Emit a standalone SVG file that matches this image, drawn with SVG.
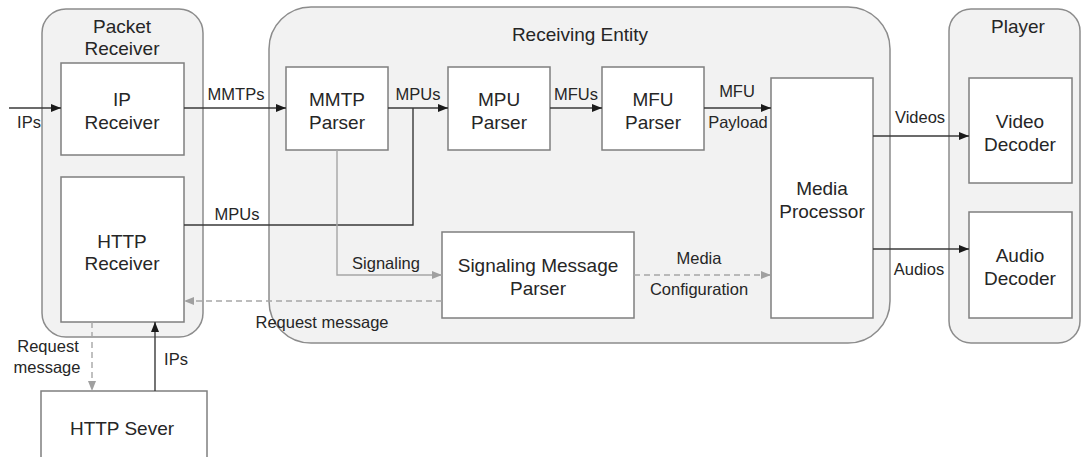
<svg xmlns="http://www.w3.org/2000/svg" width="1083" height="457" viewBox="0 0 1083 457">
  <style>
    .cont { fill: #f2f2f2; stroke: #8c8c8c; stroke-width: 1.5; }
    .box { fill: #ffffff; stroke: #7f7f7f; stroke-width: 1.5; }
    .t { font-family: "Liberation Sans", Arial, sans-serif; fill: #262626; text-anchor: middle; }
    .n { font-size: 19px; }
    .e { font-size: 16.5px; }
    .solid { fill: none; stroke: #3a3a3a; stroke-width: 1.4; }
    .grey { fill: none; stroke: #a6a6a6; stroke-width: 1.4; }
    .dash { fill: none; stroke: #a6a6a6; stroke-width: 1.4; stroke-dasharray: 6 4; }
  </style>
  <defs>
    <marker id="ah" viewBox="0 0 10 10" refX="10" refY="5" markerWidth="10" markerHeight="10" markerUnits="userSpaceOnUse" orient="auto">
      <path d="M0,1 L10,5 L0,9 Z" fill="#1a1a1a"/>
    </marker>
    <marker id="ahg" viewBox="0 0 10 10" refX="10" refY="5" markerWidth="10" markerHeight="10" markerUnits="userSpaceOnUse" orient="auto">
      <path d="M0,1 L10,5 L0,9 Z" fill="#a0a0a0"/>
    </marker>
  </defs>

  <!-- containers -->
  <g id="packet-receiver">
    <rect class="cont" x="42" y="9" width="161" height="328" rx="24"/>
    <text class="t n" x="122" y="33">Packet</text>
    <text class="t n" x="122" y="55">Receiver</text>
  </g>
  <g id="receiving-entity">
    <rect class="cont" x="269" y="7" width="621" height="336" rx="42"/>
    <text class="t n" x="580" y="41">Receiving Entity</text>
  </g>
  <g id="player">
    <rect class="cont" x="949" y="9" width="131" height="334" rx="22"/>
    <text class="t n" x="1018" y="33">Player</text>
  </g>

  <!-- nodes -->
  <g id="ip-receiver">
    <rect class="box" x="61" y="63" width="123" height="92"/>
    <text class="t n" x="122" y="106">IP</text>
    <text class="t n" x="122" y="129">Receiver</text>
  </g>
  <g id="http-receiver">
    <rect class="box" x="61" y="177" width="123" height="145"/>
    <text class="t n" x="122" y="248">HTTP</text>
    <text class="t n" x="122" y="270">Receiver</text>
  </g>
  <g id="mmtp-parser">
    <rect class="box" x="286" y="67" width="102" height="83"/>
    <text class="t n" x="337" y="106">MMTP</text>
    <text class="t n" x="337" y="129">Parser</text>
  </g>
  <g id="mpu-parser">
    <rect class="box" x="448" y="67" width="102" height="83"/>
    <text class="t n" x="499" y="106">MPU</text>
    <text class="t n" x="499" y="129">Parser</text>
  </g>
  <g id="mfu-parser">
    <rect class="box" x="602" y="67" width="102" height="83"/>
    <text class="t n" x="653" y="106">MFU</text>
    <text class="t n" x="653" y="129">Parser</text>
  </g>
  <g id="media-processor">
    <rect class="box" x="771" y="78" width="102" height="240"/>
    <text class="t n" x="822" y="195">Media</text>
    <text class="t n" x="822" y="218">Processor</text>
  </g>
  <g id="signaling-message-parser">
    <rect class="box" x="442" y="232" width="192" height="86"/>
    <text class="t n" x="538" y="272">Signaling Message</text>
    <text class="t n" x="538" y="295">Parser</text>
  </g>
  <g id="video-decoder">
    <rect class="box" x="969" y="78" width="103" height="105"/>
    <text class="t n" x="1020" y="128">Video</text>
    <text class="t n" x="1020" y="151">Decoder</text>
  </g>
  <g id="audio-decoder">
    <rect class="box" x="969" y="212" width="103" height="106"/>
    <text class="t n" x="1020" y="262">Audio</text>
    <text class="t n" x="1020" y="285">Decoder</text>
  </g>
  <g id="http-server">
    <rect class="box" x="41" y="391" width="166" height="80"/>
    <text class="t n" x="122" y="435">HTTP Sever</text>
  </g>

  <!-- connectors -->
  <g id="connectors">
    <path class="solid" d="M9,108 H61" marker-end="url(#ah)"/>
    <path class="solid" d="M184,108 H286" marker-end="url(#ah)"/>
    <path class="solid" d="M388,108 H448" marker-end="url(#ah)"/>
    <path class="solid" d="M184,225 H413 V108"/>
    <path class="solid" d="M550,108 H602" marker-end="url(#ah)"/>
    <path class="solid" d="M704,108 H771" marker-end="url(#ah)"/>
    <path class="solid" d="M873,136 H969" marker-end="url(#ah)"/>
    <path class="solid" d="M873,249 H969" marker-end="url(#ah)"/>
    <path class="grey" d="M337,150 V275 H442" marker-end="url(#ahg)"/>
    <path class="dash" d="M634,275 H771" marker-end="url(#ahg)"/>
    <path class="dash" d="M442,301 H184" marker-end="url(#ahg)"/>
    <path class="dash" d="M92,322 V391" marker-end="url(#ahg)"/>
    <path class="solid" d="M155,391 V322" marker-end="url(#ah)"/>

    <text class="t e" x="29" y="128">IPs</text>
    <text class="t e" x="236" y="100">MMTPs</text>
    <text class="t e" x="418" y="100">MPUs</text>
    <text class="t e" x="576" y="100">MFUs</text>
    <text class="t e" x="737" y="97">MFU</text>
    <text class="t e" x="738" y="128">Payload</text>
    <text class="t e" x="920" y="123">Videos</text>
    <text class="t e" x="919" y="275">Audios</text>
    <text class="t e" x="237" y="220">MPUs</text>
    <text class="t e" x="386" y="269">Signaling</text>
    <text class="t e" x="699" y="264">Media</text>
    <text class="t e" x="699" y="295">Configuration</text>
    <text class="t e" x="322" y="328">Request message</text>
    <text class="t e" x="48" y="352">Request</text>
    <text class="t e" x="47" y="373">message</text>
    <text class="t e" x="176" y="365">IPs</text>
  </g>
</svg>
